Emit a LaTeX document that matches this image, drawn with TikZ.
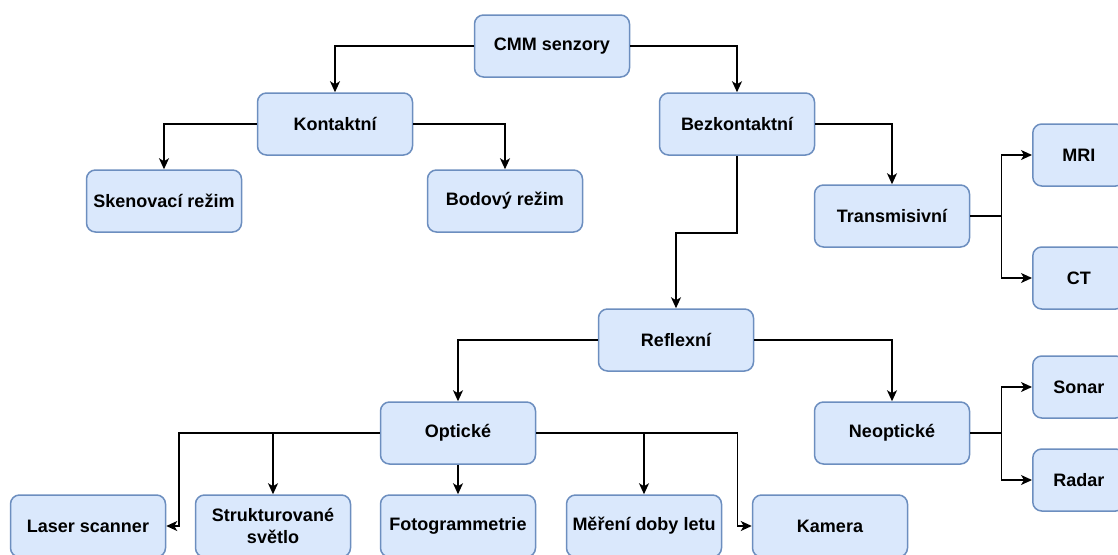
\documentclass[tikz,border=0pt]{standalone}
\usepackage{fontspec}
\setmainfont{Liberation Sans}
\usetikzlibrary{arrows.meta, positioning}
\definecolor{cfill}{HTML}{DAE8FC}
\definecolor{cline}{HTML}{6C8EBF}
\tikzset{
  every picture/.style={font=\fontsize{18}{22}\selectfont\bfseries, line width=1.5pt},
  box/.style={draw=cline, fill=cfill, rounded corners=9pt, align=center, inner sep=0pt,
              minimum width=#1, minimum height=62pt},
  box/.default=155pt,
  arrow/.style={-{Stealth[length=11pt, width=10pt, inset=3pt]}, draw=black},
}
\begin{document}
\begin{tikzpicture}[x=1pt, y=-1pt]
  \clip (0,0) rectangle (1118,554);
  % top levels
  \node[box] (cmm) at (552,46) {CMM senzory};
  \node[box] (kontakt) at (335,124) {Kontaktní};
  \node[box] (bezkontakt) at (737,124) {Bezkontaktní};
  \node[box] (sken) at (164,201) {Skenovací režim};
  \node[box] (bod) at (505,201) {Bodový režim};
  \node[box] (trans) at (892,216) {Transmisivní};
  \node[box=92pt, anchor=west] (mri) at (1032,155) {MRI};
  \node[box=92pt, anchor=west] (ct) at (1032,278) {CT};
  % reflexni branch
  \node[box] (refl) at (676,340) {Reflexní};
  \node[box] (opt) at (458,433) {Optické};
  \node[box] (neopt) at (892,433) {Neoptické};
  \node[box=92pt, anchor=west] (sonar) at (1032,387) {Sonar};
  \node[box=92pt, anchor=west] (radar) at (1032,480) {Radar};
  % bottom row
  \node[box] (laser) at (88,526) {Laser scanner};
  \node[box] (strukt) at (273,526) {Strukturované\\světlo};
  \node[box] (foto) at (458,526) {Fotogrammetrie};
  \node[box] (tof) at (644,526) {Měření doby letu};
  \node[box] (kamera) at (830,526) {Kamera};
  % connectors
  \draw[arrow] (cmm.west) -| (kontakt.north);
  \draw[arrow] (cmm.east) -| (bezkontakt.north);
  \draw[arrow] (kontakt.west) -| (sken.north);
  \draw[arrow] (kontakt.east) -| (bod.north);
  \draw[arrow] (bezkontakt.east) -| (trans.north);
  \draw[arrow] (bezkontakt.south) -- ++(0,77) -| (refl.north);
  \draw[arrow] (trans.east) -- ++(31,0) |- (mri.west);
  \draw[arrow] (trans.east) -- ++(31,0) |- (ct.west);
  \draw[arrow] (refl.west) -| (opt.north);
  \draw[arrow] (refl.east) -| (neopt.north);
  \draw[arrow] (neopt.east) -- ++(31,0) |- (sonar.west);
  \draw[arrow] (neopt.east) -- ++(31,0) |- (radar.west);
  \draw[arrow] (opt.west) -- ++(-201,0) |- (laser.east);
  \draw[arrow] (opt.west) -| (strukt.north);
  \draw[arrow] (opt.south) -- (foto.north);
  \draw[arrow] (opt.east) -| (tof.north);
  \draw[arrow] (opt.east) -- ++(201,0) |- (kamera.west);
\end{tikzpicture}
\end{document}
